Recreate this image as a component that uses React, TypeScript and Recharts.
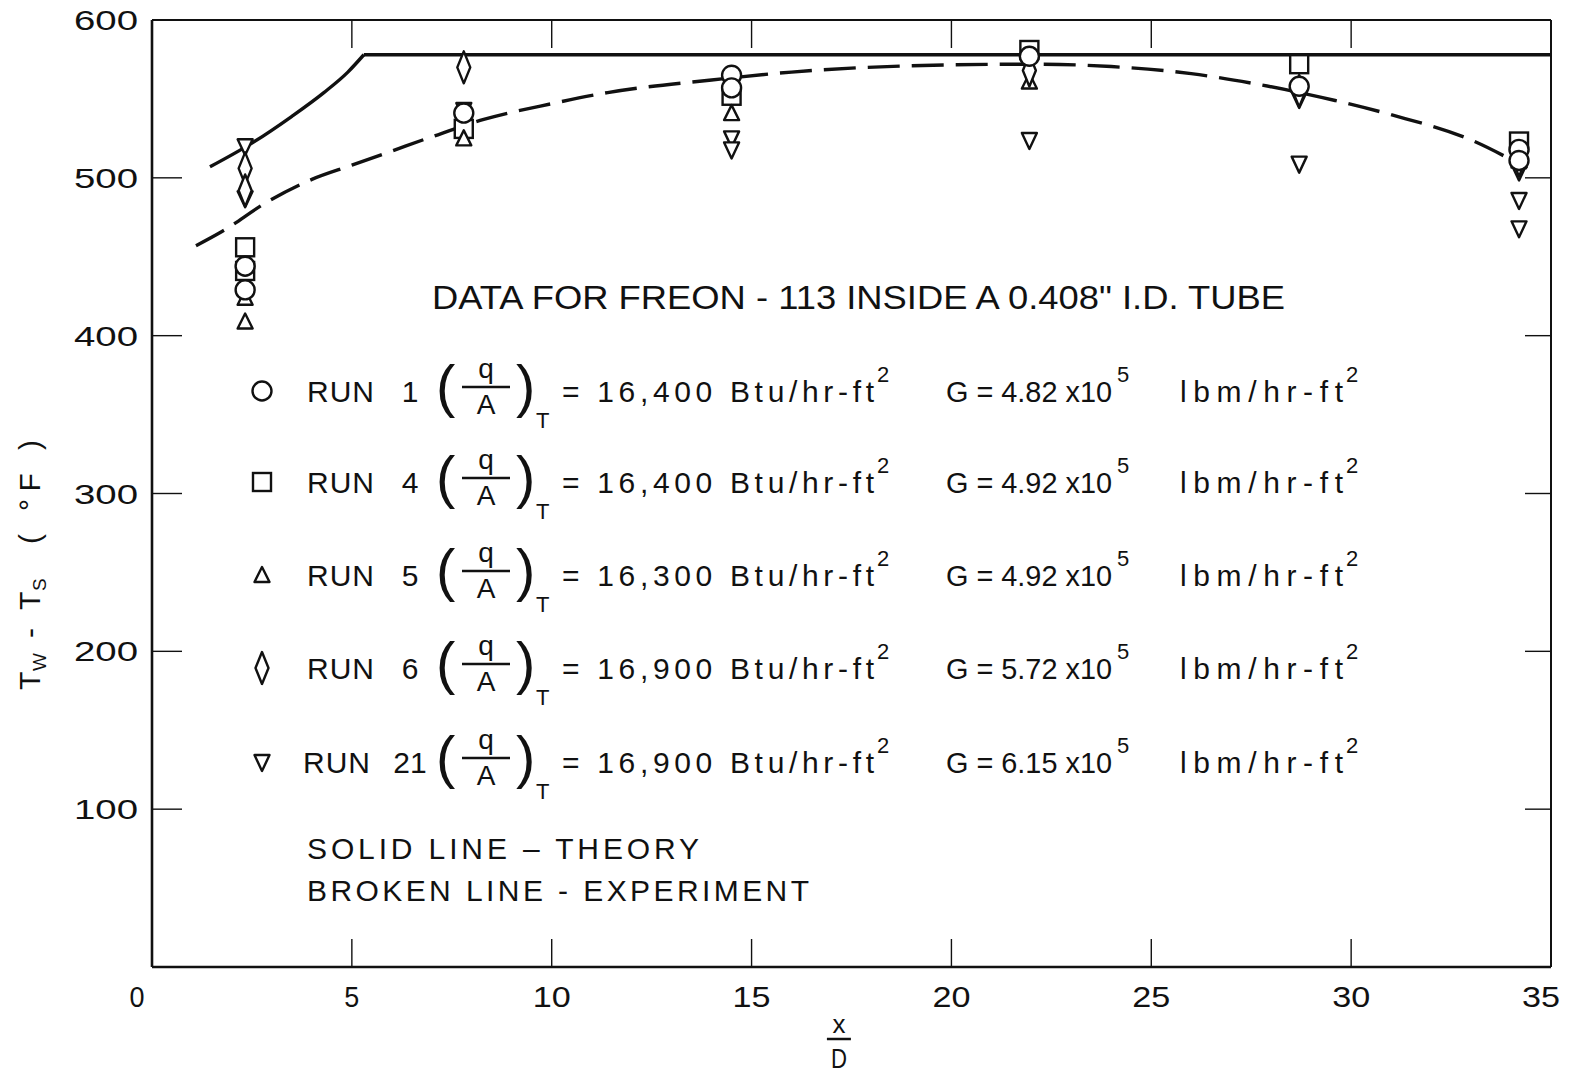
import React from 'react'
import { ComposedChart, Line, Scatter, XAxis, YAxis } from 'recharts'

const W = 1574
const H = 1073
const FONT = '"Liberation Sans", Arial, sans-serif'
const INK = '#111'

const xTicks = [0, 5, 10, 15, 20, 25, 30, 35]
const yTicks = [0, 100, 200, 300, 400, 500, 600]

// theory (solid): rising entrance part, then the flat part
const theoryRiseX = [1.45, 2.5, 3.5, 4.3, 4.9, 5.3]
const theoryRiseY = [507, 522, 539, 554, 567, 578]
const theoryFlatX = [5.3, 35]
const theoryFlatY = [578, 578]

// experiment fit (broken)
const fitX = [1.1, 1.75, 2.9, 4.0, 5, 6, 7, 8.3, 10, 11.4, 14, 16, 19, 22, 24, 26, 27.5, 29.6, 31, 33, 34.4]
const fitY = [457, 466, 485, 499, 508, 517, 526, 537, 547, 554, 562, 567, 571, 572, 570.5, 566, 560, 549, 540, 524, 506]

// measured points: [x/D, Tw - Ts]
const run1: [number, number][] = [
  [2.33, 444], [2.33, 429], [7.8, 541], [14.5, 565], [14.5, 557],
  [21.95, 577], [28.7, 558], [34.2, 518], [34.2, 511],
]
const run4: [number, number][] = [
  [2.33, 456], [2.33, 441], [7.8, 531], [14.5, 552], [21.95, 581], [28.7, 572], [34.2, 523],
]
const run5: [number, number][] = [
  [2.33, 424], [2.33, 409], [7.8, 525], [14.5, 541], [21.95, 561], [34.2, 511],
]
const run6: [number, number][] = [
  [2.33, 506], [2.33, 492], [7.8, 570], [21.95, 568], [28.7, 555], [34.2, 511],
]
const run21: [number, number][] = [
  [2.33, 520], [2.33, 487], [7.8, 543], [14.5, 525], [14.5, 518], [21.95, 524],
  [28.7, 550], [28.7, 509], [34.2, 504], [34.2, 486], [34.2, 468],
]

// legend rows
const runNames = ['1', '4', '5', '6', '21']
const runFlux = ['16,400', '16,400', '16,300', '16,900', '16,900']
const runG = ['4.82', '4.92', '4.92', '5.72', '6.15']

const toPts = (xs: number[], ys: number[]) => xs.map((x, i) => ({ x, y: ys[i] }))
const fromPairs = (p: [number, number][]) => p.map(([x, y]) => ({ x, y }))

type M = { cx: number; cy: number }
const SW = 2.4

const Circ = ({ cx, cy }: M) => (
  <circle cx={cx} cy={cy} r={9.5} fill="#fff" stroke={INK} strokeWidth={SW} />
)
const Sq = ({ cx, cy }: M) => (
  <rect x={cx - 9} y={cy - 9} width={18} height={18} fill="#fff" stroke={INK} strokeWidth={SW} />
)
const Tri = ({ cx, cy }: M) => (
  <polygon points={`${cx},${cy - 8} ${cx + 7.5},${cy + 7} ${cx - 7.5},${cy + 7}`} fill="#fff" stroke={INK} strokeWidth={SW} strokeLinejoin="round" />
)
const Nabla = ({ cx, cy }: M) => (
  <polygon points={`${cx - 7.5},${cy - 7} ${cx + 7.5},${cy - 7} ${cx},${cy + 9}`} fill="#fff" stroke={INK} strokeWidth={SW} strokeLinejoin="round" />
)
const Dia = ({ cx, cy }: M) => (
  <polygon points={`${cx},${cy - 16} ${cx + 6.5},${cy} ${cx},${cy + 16} ${cx - 6.5},${cy}`} fill="#fff" stroke={INK} strokeWidth={SW} strokeLinejoin="round" />
)

const legendMarks = [Circ, Sq, Tri, Dia, Nabla]

// tick lines only, no label
const NoLabel = () => <g />

function YTick(props: any) {
  const { x, y, payload } = props
  if (payload.value === 0) return <g />
  return (
    <text x={x} y={y + 10} textAnchor="end" fontSize={28} fontFamily={FONT} fill={INK}
      textLength={64} lengthAdjust="spacingAndGlyphs">
      {payload.value}
    </text>
  )
}

function XTick(props: any) {
  const { x, y, payload } = props
  const v = payload.value
  const s = String(v)
  const shift = v === 0 ? -15 : v === 35 ? -10 : 0
  return (
    <text x={x + shift} y={y + 40} textAnchor="middle" fontSize={29} fontFamily={FONT} fill={INK}
      textLength={s.length === 1 ? 15 : 38} lengthAdjust="spacingAndGlyphs">
      {s}
    </text>
  )
}

function XTitle(props: any) {
  const vb = props.viewBox || { x: 152, y: 967, width: 1399 }
  const cx = vb.x + vb.width * 0.491
  return (
    <g fontFamily={FONT} fill={INK}>
      <text x={cx} y={1033} textAnchor="middle" fontSize={26}>x</text>
      <line x1={cx - 12} x2={cx + 12} y1={1039} y2={1039} stroke={INK} strokeWidth={2.5} />
      <text x={cx} y={1068} textAnchor="middle" fontSize={28} textLength={16} lengthAdjust="spacingAndGlyphs">D</text>
    </g>
  )
}

function YTitle() {
  return (
    <g transform="translate(40,690) rotate(-90)" fontFamily={FONT} fill={INK} fontSize={30}>
      <text x={0} y={0}>T</text>
      <text x={19} y={6} fontSize={19}>W</text>
      <text x={52} y={0}>-</text>
      <text x={80} y={0}>T</text>
      <text x={99} y={6} fontSize={19}>S</text>
      <text x={146} y={0} textLength={104} lengthAdjust="spacing">( °F )</text>
    </g>
  )
}

function Notes() {
  const rows = [391, 482, 575, 668, 762]
  const t = { fontFamily: FONT, fill: INK }
  return (
    <svg width={W} height={H} style={{ position: 'absolute', left: 0, top: 0, pointerEvents: 'none' }}>
      <text {...t} x={432} y={309} fontSize={33} textLength={853} lengthAdjust="spacingAndGlyphs">
        DATA FOR FREON - 113 INSIDE A 0.408" I.D. TUBE
      </text>
      {rows.map((c, i) => {
        const Mark = legendMarks[i]
        return (
          <g key={runNames[i]} {...t}>
            <Mark cx={262} cy={c} />
            <text x={i === 4 ? 303 : 307} y={c + 11} fontSize={30} textLength={67} lengthAdjust="spacing">RUN</text>
            <text x={410} y={c + 11} fontSize={30} textAnchor="middle">{runNames[i]}</text>
            <text x={436} y={c + 15} fontSize={58} fontWeight={300}>(</text>
            <text x={486} y={c - 13} fontSize={28} textAnchor="middle">q</text>
            <line x1={462} x2={510} y1={c - 4} y2={c - 4} stroke={INK} strokeWidth={2.4} />
            <text x={486} y={c + 23} fontSize={28} textAnchor="middle">A</text>
            <text x={516} y={c + 15} fontSize={58} fontWeight={300}>)</text>
            <text x={536} y={c + 37} fontSize={22}>T</text>
            <text x={562} y={c + 11} fontSize={30} textLength={312} lengthAdjust="spacing">
              {`= ${runFlux[i]} Btu/hr-ft`}
            </text>
            <text x={877} y={c - 9} fontSize={22}>2</text>
            <text x={946} y={c + 11} fontSize={29} textLength={166} lengthAdjust="spacingAndGlyphs">
              {`G = ${runG[i]} x10`}
            </text>
            <text x={1117} y={c - 9} fontSize={22}>5</text>
            <text x={1180} y={c + 11} fontSize={30} textLength={163} lengthAdjust="spacing">lbm/hr-ft</text>
            <text x={1346} y={c - 9} fontSize={22}>2</text>
          </g>
        )
      })}
      <text {...t} x={307} y={859} fontSize={30} textLength={392} lengthAdjust="spacing">
        SOLID LINE – THEORY
      </text>
      <text {...t} x={307} y={901} fontSize={30} textLength={502} lengthAdjust="spacing">
        BROKEN LINE - EXPERIMENT
      </text>
    </svg>
  )
}

export default function App() {
  const frame = { stroke: INK, strokeWidth: 2.6 }
  const thin = { stroke: INK, strokeWidth: 2 }
  const tickStroke = { stroke: INK, strokeWidth: 1.4 }
  return (
    <div style={{ position: 'absolute', left: 0, top: 0, width: W, height: H, background: '#fff' }}>
      <ComposedChart width={W} height={H} margin={{ top: 20, right: 23, bottom: 0, left: 0 }}>
        <XAxis
          dataKey="x" type="number" domain={[0, 35]} ticks={xTicks} allowDataOverflow interval={0}
          height={106} tickSize={0} tickMargin={0} tickLine={false}
          axisLine={frame} tick={<XTick />}
          label={{ content: (p: any) => <XTitle {...p} /> }}
        />
        <XAxis
          xAxisId="inB" dataKey="x" type="number" domain={[0, 35]} ticks={xTicks} allowDataOverflow interval={0}
          orientation="bottom" mirror height={1} tickSize={28} tick={<NoLabel />}
          axisLine={false} tickLine={tickStroke}
        />
        <XAxis
          xAxisId="top" dataKey="x" type="number" domain={[0, 35]} ticks={xTicks} allowDataOverflow interval={0}
          orientation="top" mirror height={1} tickSize={28} tick={<NoLabel />}
          axisLine={thin} tickLine={tickStroke}
        />
        <YAxis
          dataKey="y" type="number" domain={[0, 600]} ticks={yTicks} allowDataOverflow interval={0}
          width={152} tickSize={0} tickMargin={14} tickLine={false}
          axisLine={frame} tick={<YTick />}
          label={{ content: () => <YTitle /> }}
        />
        <YAxis
          yAxisId="inL" dataKey="y" type="number" domain={[0, 600]} ticks={yTicks} allowDataOverflow interval={0}
          orientation="left" mirror width={1} tickSize={30} tick={<NoLabel />}
          axisLine={false} tickLine={tickStroke}
        />
        <YAxis
          yAxisId="right" dataKey="y" type="number" domain={[0, 600]} ticks={yTicks} allowDataOverflow interval={0}
          orientation="right" mirror width={1} tickSize={26} tick={<NoLabel />}
          axisLine={thin} tickLine={tickStroke}
        />

        <Line data={toPts(theoryRiseX, theoryRiseY)} dataKey="y" type="monotone" stroke={INK}
          strokeWidth={3.4} dot={false} isAnimationActive={false} />
        <Line data={toPts(theoryFlatX, theoryFlatY)} dataKey="y" type="linear" stroke={INK}
          strokeWidth={3.4} dot={false} isAnimationActive={false} />
        <Line data={toPts(fitX, fitY)} dataKey="y" type="monotone" stroke={INK}
          strokeWidth={3.4} strokeDasharray="32 12" dot={false} isAnimationActive={false} />

        <Scatter data={fromPairs(run4)} dataKey="y" isAnimationActive={false}
          shape={(p: any) => <Sq cx={p.cx} cy={p.cy} />} />
        <Scatter data={fromPairs(run5)} dataKey="y" isAnimationActive={false}
          shape={(p: any) => <Tri cx={p.cx} cy={p.cy} />} />
        <Scatter data={fromPairs(run21)} dataKey="y" isAnimationActive={false}
          shape={(p: any) => <Nabla cx={p.cx} cy={p.cy} />} />
        <Scatter data={fromPairs(run6)} dataKey="y" isAnimationActive={false}
          shape={(p: any) => <Dia cx={p.cx} cy={p.cy} />} />
        <Scatter data={fromPairs(run1)} dataKey="y" isAnimationActive={false}
          shape={(p: any) => <Circ cx={p.cx} cy={p.cy} />} />
      </ComposedChart>
      <Notes />
    </div>
  )
}
